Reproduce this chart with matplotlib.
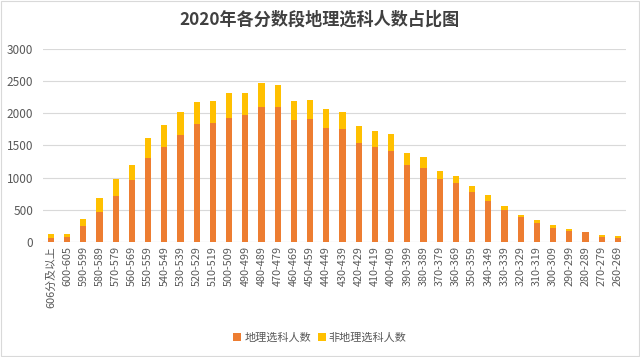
import matplotlib.pyplot as plt
import numpy as np

plt.rcParams['font.family'] = ['Noto Sans CJK SC', 'DejaVu Sans']

# score bands, high to low
bands = ["606分及以上", "600-605"] + [f"{s}-{s + 9}" for s in range(590, 259, -10)]

# students choosing geography (orange) and totals
geo = [62, 78, 243, 471, 720, 958, 1305, 1476, 1663, 1834, 1849, 1932,
       1974, 2103, 2103, 1896, 1917, 1766, 1751, 1544, 1471, 1419, 1202, 1150,
       974, 922, 782, 642, 492, 389, 300, 223, 171, 150, 83, 67]
total = [119, 130, 357, 689, 974, 1191, 1621, 1818, 2020, 2176, 2191, 2321,
         2321, 2476, 2445, 2191, 2207, 2062, 2020, 1803, 1720, 1673, 1388, 1321,
         1103, 1031, 875, 736, 565, 425, 337, 264, 197, 161, 104, 93]
non_geo = [t - g for t, g in zip(total, geo)]

fig = plt.figure(figsize=(6.4, 3.57), dpi=100)
ax = fig.add_axes([0.067, 0.322, 0.911, 0.541])

x = np.arange(len(bands))
ax.bar(x, geo, width=0.38, color="#ED7D31", label="地理选科人数", zorder=3)
ax.bar(x, non_geo, width=0.38, bottom=geo, color="#FFC000", label="非地理选科人数", zorder=3)

ax.set_xlim(-0.5, len(bands) - 0.5)
ax.set_ylim(0, 3000)
ax.set_yticks(range(0, 3001, 500))
ax.set_xticks(x)
ax.set_xticklabels(bands, rotation=90, fontsize=7.8, color="#595959")
ax.tick_params(axis="y", labelsize=8.5, colors="#595959", length=0, pad=7)
ax.tick_params(axis="x", length=0, pad=3)
ax.grid(axis="y", color="#D9D9D9", lw=0.8, zorder=0)
for s in ax.spines.values():
    s.set_visible(False)
ax.axhline(0, color="#D9D9D9", lw=0.8, zorder=2)

fig.suptitle("2020年各分数段地理选科人数占比图", y=0.97, fontsize=12.3,
             fontweight="bold", color="#404040")

fig.legend(loc="center", bbox_to_anchor=(0.5, 0.053), ncol=2, frameon=False,
           fontsize=8, handlelength=0.7, handleheight=0.7, columnspacing=0.6,
           handletextpad=0.3, labelcolor="#595959")

fig.patches.append(plt.Rectangle((0.002, 0.003), 0.996, 0.994, transform=fig.transFigure,
                                 fill=False, edgecolor="#D9D9D9", lw=0.8))

fig.savefig("out.png", dpi=100, facecolor="white")
